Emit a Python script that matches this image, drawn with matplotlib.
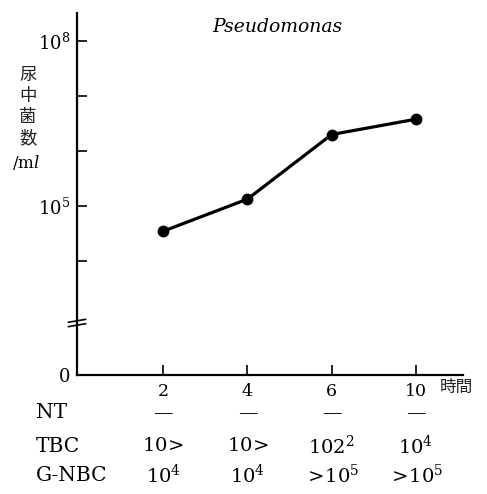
import matplotlib
matplotlib.use("Agg")
import matplotlib.pyplot as plt
import matplotlib.transforms as mtransforms
import numpy as np

# ---- data ----
hours = ["2", "4", "6", "10"]
counts = [3.5e4, 1.34e5, 2.0e6, 3.8e6]
row_labels = ["NT", "TBC", "G-NBC"]
nt_vals = ["\u2014", "\u2014", "\u2014", "\u2014"]
tbc_vals = [r"$\mathrm{10}\!>$", r"$\mathrm{10}\!>$", r"$\mathrm{102^2}$", r"$\mathrm{10^4}$"]
gnbc_vals = [r"$\mathrm{10^4}$", r"$\mathrm{10^4}$", r"$>\!\mathrm{10^5}$", r"$>\!\mathrm{10^5}$"]
ytick_vals = [1e4, 1e5, 1e6, 1e7, 1e8]
ytick_labels = ["", r"$10^5$", "", "", r"$10^8$"]

plt.rcParams["font.family"] = ["DejaVu Serif"]
plt.rcParams["mathtext.fontset"] = "dejavuserif"

W, H = 487, 494
fig = plt.figure(figsize=(W / 100, H / 100), dpi=100)

def fx(px):
    return px / W

def fy(py):
    return 1 - py / H

left, right, top, bottom = 77, 463, 13, 375
ax = fig.add_axes([fx(left), fy(bottom), fx(right - left), fy(top) - fy(bottom)])

x = np.arange(len(hours))
ax.plot(x, counts, color="black", lw=2.3, marker="o", ms=7.5, solid_capstyle="round")

ax.set_yscale("log")
ylo = 10 ** 1.93
ax.set_ylim(ylo, 10 ** 8.51)
ax.set_xlim(-1.024, 3.56)

ax.set_yticks([ylo] + ytick_vals)
ax.set_yticklabels(["0"] + ytick_labels, fontsize=13)
ax.yaxis.set_minor_locator(matplotlib.ticker.NullLocator())
ax.set_xticks(x)
ax.set_xticklabels(hours, fontsize=12.5)
ax.tick_params(axis="both", direction="in", length=7, width=1.2, color="black")
ax.tick_params(axis="y", pad=5)
ax.tick_params(axis="x", pad=6)

for s in ["top", "right"]:
    ax.spines[s].set_visible(False)
for s in ["left", "bottom"]:
    ax.spines[s].set_linewidth(1.6)

# axis break marks
bx = 0.0
by = 1 - (323 - top) / (bottom - top)
for dy in (-0.006, 0.006):
    ax.plot([bx - 0.022, bx + 0.022], [by + dy - 0.004, by + dy + 0.004],
            transform=ax.transAxes, color="black", lw=1.2, clip_on=False)

# title
ax.text(0.518, fy(27), "Pseudomonas", transform=mtransforms.blended_transform_factory(ax.transAxes, fig.transFigure),
        ha="center", va="center", fontsize=13.5, style="italic")

# y label (vertical Japanese)
cjk = ["Noto Sans CJK JP", "DejaVu Sans"]
for ch, py in zip(["尿", "中", "菌", "数"], [75, 96, 117, 138]):
    fig.text(fx(28), fy(py), ch, ha="center", va="center", fontsize=12.5, family=cjk, color="#222222")
fig.text(fx(26), fy(162), r"/m$\mathit{l}$", ha="center", va="center", fontsize=12)

# x unit label
fig.text(fx(440), fy(387), "時間", ha="left", va="center", fontsize=12, family=cjk, color="#222222")

# table below
bt = mtransforms.blended_transform_factory(ax.transData, fig.transFigure)
rows_y = [413, 446, 475]
for lab, vals, py in zip(row_labels, [nt_vals, tbc_vals, gnbc_vals], rows_y):
    fig.text(fx(36), fy(py), lab, ha="left", va="center", fontsize=14.5)
    for xi, v in zip(x, vals):
        ax.text(xi, fy(py), v, transform=bt, ha="center", va="center", fontsize=14)

fig.savefig("out.png", dpi=100)
